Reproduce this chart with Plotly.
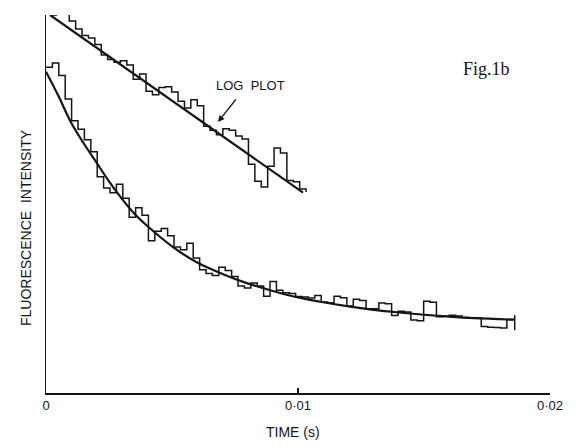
import plotly.graph_objects as go

# ---- data (time in s, intensity in arbitrary units) ----
dt = 0.000254
t_up = [round(0.00016 + dt * k, 6) for k in range(41)]
up_trace = [100.0, 100.2, 100.6, 98.4, 96.3, 94.6, 93.9, 92.2, 89.4, 88.2,
            87.5, 87.9, 86.8, 83.0, 84.4, 79.8, 78.9, 80.8, 81.0, 79.6,
            77.2, 75.4, 77.6, 76.0, 70.6, 69.5, 68.3, 69.9, 69.5, 68.0,
            67.2, 60.5, 56.0, 54.5, 60.0, 64.8, 63.5, 56.2, 55.9, 54.0, 53.2]
up_fit_t = [0.00016, 0.0102]
up_fit = [100.0, 53.0]

t_low = [round(dt * k, 6) for k in range(74)]
low_trace = [86.2, 87.3, 84.0, 77.8, 72.0, 69.8, 67.0, 63.8, 57.2, 54.2,
             53.0, 55.2, 51.5, 46.5, 49.0, 47.0, 40.3, 42.8, 43.5, 41.6,
             38.6, 37.9, 39.6, 35.7, 32.6, 31.6, 31.1, 33.3, 32.4, 30.8,
             28.3, 27.8, 29.1, 28.3, 25.6, 29.5, 27.2, 26.5, 26.3, 25.5,
             25.4, 25.1, 25.8, 24.1, 23.9, 25.6, 25.2, 23.0, 24.8, 24.5,
             22.3, 22.3, 23.8, 23.6, 20.5, 21.6, 21.4, 19.3, 19.1, 24.3,
             24.0, 20.2, 20.3, 20.6, 20.4, 20.0, 19.9, 19.9, 17.6, 17.4,
             17.3, 17.2, 19.4, 19.4]
low_fit_t = [0.0, 0.0005, 0.001, 0.0015, 0.002, 0.0025, 0.003, 0.0035, 0.004,
             0.005, 0.006, 0.007, 0.008, 0.009, 0.010, 0.011, 0.012, 0.013,
             0.014, 0.015, 0.016, 0.017, 0.0186]
low_fit = [85.0, 78.5, 71.5, 66.0, 61.0, 56.0, 51.5, 47.5, 44.3,
           38.8, 34.5, 31.5, 29.0, 27.0, 25.3, 24.0, 22.9, 22.0,
           21.3, 20.7, 20.2, 19.8, 19.4]
end_tick_t = [0.0186, 0.0186]
end_tick_y = [16.6, 20.6]

x_tickvals = [0, 0.01, 0.02]
x_ticktext = ["0", "0·01", "0·02"]

BLACK = "#151515"
fig = go.Figure()
fig.add_trace(go.Scatter(x=t_up, y=up_trace, mode="lines", line_shape="hv",
                         line=dict(color=BLACK, width=1.5), hoverinfo="skip"))
fig.add_trace(go.Scatter(x=up_fit_t, y=up_fit, mode="lines",
                         line=dict(color=BLACK, width=2.2), hoverinfo="skip"))
fig.add_trace(go.Scatter(x=t_low, y=low_trace, mode="lines", line_shape="hv",
                         line=dict(color=BLACK, width=1.5), hoverinfo="skip"))
fig.add_trace(go.Scatter(x=low_fit_t, y=low_fit, mode="lines", line_shape="spline",
                         line=dict(color=BLACK, width=2.2), hoverinfo="skip"))
fig.add_trace(go.Scatter(x=end_tick_t, y=end_tick_y, mode="lines",
                         line=dict(color=BLACK, width=1.5), hoverinfo="skip"))

sans = "Liberation Sans, Arial, sans-serif"
L, R, T, B = 46, 26, 15, 55
PW, PH = 576 - L - R, 448 - T - B


def px(xp):
    return (xp - L) / PW


def py(yp):
    return (448 - B - yp) / PH


fig.update_layout(
    width=576, height=448,
    margin=dict(l=L, r=R, t=T, b=B),
    paper_bgcolor="white", plot_bgcolor="white",
    showlegend=False,
    xaxis=dict(range=[0, 0.02], showgrid=False, zeroline=False,
               showline=True, linecolor=BLACK, linewidth=1.5,
               tickvals=x_tickvals, ticktext=x_ticktext,
               ticks="inside", ticklen=5, tickcolor=BLACK, tickwidth=1.2,
               ticklabelstandoff=0,
               tickfont=dict(family=sans, size=13, color=BLACK)),
    yaxis=dict(range=[0, 100], showgrid=False, zeroline=False,
               showline=True, linecolor=BLACK, linewidth=1.5,
               showticklabels=False, ticks=""),
    annotations=[
        dict(text="TIME (s)", xref="paper", yref="paper",
             x=px(293), y=py(432), xanchor="center", yanchor="middle",
             showarrow=False, font=dict(family=sans, size=14, color=BLACK)),
        dict(text="FLUORESCENCE  INTENSITY", xref="paper", yref="paper",
             x=px(26), y=py(228), xanchor="center", yanchor="middle",
             showarrow=False, textangle=-90,
             font=dict(family=sans, size=14, color=BLACK)),
        dict(text="LOG  PLOT", xref="paper", yref="paper",
             x=px(250), y=py(86), xanchor="center", yanchor="middle",
             showarrow=False, font=dict(family=sans, size=13, color=BLACK)),
        dict(text="", xref="paper", yref="paper", x=px(218), y=py(122),
             showarrow=True, ax=19, ay=-24,
             arrowhead=2, arrowsize=1, arrowwidth=1.3, arrowcolor=BLACK),
        dict(text="Fig.1b", xref="paper", yref="paper",
             x=px(512), y=py(69), xanchor="right", yanchor="middle",
             showarrow=False,
             font=dict(family="Liberation Serif, Times New Roman, serif",
                       size=18, color=BLACK)),
    ],
)

fig.write_html("out.html",
               config={"displayModeBar": False, "staticPlot": True},
               post_script="document.body.style.margin='0';"
                           "document.body.style.padding='0';")
